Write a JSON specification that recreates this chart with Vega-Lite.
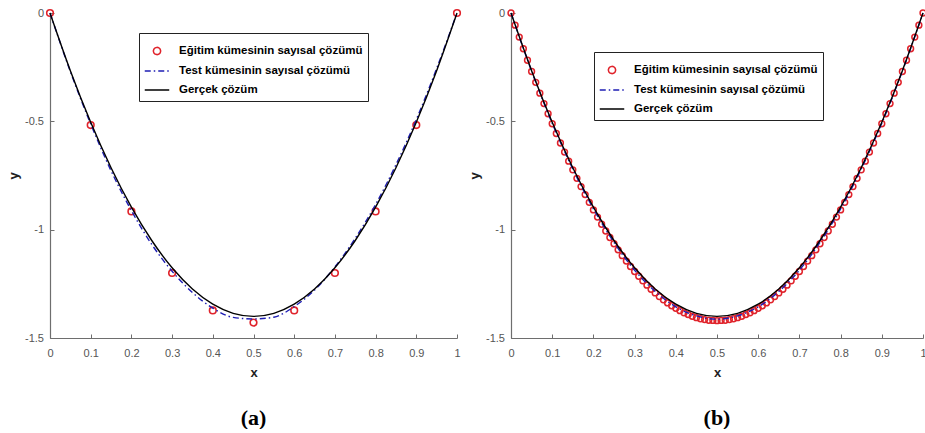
{
  "$schema": "https://vega.github.io/schema/vega-lite/v6.json",
  "padding": {"left": 7, "top": 6, "right": 0, "bottom": 0},
  "background": "white",
  "spacing": 4,
  "config": {
    "view": {"stroke": null},
    "axis": {
      "grid": false,
      "domainColor": "#6e6e6e",
      "domainWidth": 1.2,
      "tickColor": "#6e6e6e",
      "tickWidth": 1,
      "tickSize": -4,
      "labelColor": "#555555",
      "labelFont": "Liberation Sans",
      "labelFontSize": 11,
      "labelFlush": false,
      "labelOverlap": false,
      "titleFont": "Liberation Sans",
      "titleFontSize": 13,
      "titleFontWeight": "bold",
      "titleColor": "#222222"
    },
    "axisX": {"labelPadding": 13, "titlePadding": 8},
    "axisY": {"labelPadding": 10.5, "titlePadding": 4},
    "legend": {
      "orient": "none", "title": null,
      "padding": 5, "strokeColor": "#222222", "fillColor": "#ffffff",
      "symbolSize": 600, "symbolStrokeWidth": 1.5, "symbolFillColor": "transparent",
      "labelFont": "Liberation Sans", "labelFontWeight": "bold", "labelFontSize": 11.5, "labelColor": "#000000",
      "labelOffset": 9, "rowPadding": -2, "labelLimit": 400
    },
    "title": {"font": "Liberation Serif", "fontSize": 22, "fontWeight": "bold", "color": "#000000", "orient": "bottom", "anchor": "middle", "offset": 29}
  },
  "resolve": {"scale": {"color": "independent"}, "legend": {"color": "independent"}},
  "datasets": {
    "a_train": [
      {"x": 0, "y": 0}, {"x": 0.1, "y": -0.517}, {"x": 0.2, "y": -0.916}, {"x": 0.3, "y": -1.2}, {"x": 0.4, "y": -1.373}, {"x": 0.5, "y": -1.429},
      {"x": 0.6, "y": -1.373}, {"x": 0.7, "y": -1.2}, {"x": 0.8, "y": -0.916}, {"x": 0.9, "y": -0.517}, {"x": 1, "y": 0}
    ],
    "a_test": [
      {"x": 0, "y": 0}, {"x": 0.05, "y": -0.27}, {"x": 0.1, "y": -0.512}, {"x": 0.15, "y": -0.728}, {"x": 0.2, "y": -0.912}, {"x": 0.25, "y": -1.068},
      {"x": 0.3, "y": -1.192}, {"x": 0.35, "y": -1.29}, {"x": 0.4, "y": -1.362}, {"x": 0.45, "y": -1.405}, {"x": 0.5, "y": -1.412},
      {"x": 0.55, "y": -1.404}, {"x": 0.6, "y": -1.355}, {"x": 0.65, "y": -1.279}, {"x": 0.7, "y": -1.172}, {"x": 0.75, "y": -1.04},
      {"x": 0.8, "y": -0.884}, {"x": 0.85, "y": -0.7}, {"x": 0.9, "y": -0.492}, {"x": 0.95, "y": -0.256}, {"x": 1, "y": 0}
    ],
    "exact": [
      {"x": 0, "y": 0}, {"x": 0.05, "y": -0.266}, {"x": 0.1, "y": -0.504}, {"x": 0.15, "y": -0.714}, {"x": 0.2, "y": -0.896}, {"x": 0.25, "y": -1.05},
      {"x": 0.3, "y": -1.176}, {"x": 0.35, "y": -1.274}, {"x": 0.4, "y": -1.344}, {"x": 0.45, "y": -1.386}, {"x": 0.5, "y": -1.4},
      {"x": 0.55, "y": -1.386}, {"x": 0.6, "y": -1.344}, {"x": 0.65, "y": -1.274}, {"x": 0.7, "y": -1.176}, {"x": 0.75, "y": -1.05},
      {"x": 0.8, "y": -0.896}, {"x": 0.85, "y": -0.714}, {"x": 0.9, "y": -0.504}, {"x": 0.95, "y": -0.266}, {"x": 1, "y": 0}
    ],
    "b_test": [
      {"x": 0, "y": 0}, {"x": 0.05, "y": -0.268}, {"x": 0.1, "y": -0.509}, {"x": 0.15, "y": -0.72}, {"x": 0.2, "y": -0.904}, {"x": 0.25, "y": -1.059},
      {"x": 0.3, "y": -1.187}, {"x": 0.35, "y": -1.285}, {"x": 0.4, "y": -1.356}, {"x": 0.45, "y": -1.398}, {"x": 0.5, "y": -1.413},
      {"x": 0.55, "y": -1.398}, {"x": 0.6, "y": -1.356}, {"x": 0.65, "y": -1.285}, {"x": 0.7, "y": -1.187}, {"x": 0.75, "y": -1.059},
      {"x": 0.8, "y": -0.904}, {"x": 0.85, "y": -0.72}, {"x": 0.9, "y": -0.509}, {"x": 0.95, "y": -0.268}, {"x": 1, "y": 0}
    ],
    "b_train": [
      {"x": 0, "y": 0}, {"x": 0.01, "y": -0.056}, {"x": 0.02, "y": -0.111}, {"x": 0.03, "y": -0.165}, {"x": 0.04, "y": -0.218},
      {"x": 0.05, "y": -0.27}, {"x": 0.06, "y": -0.32}, {"x": 0.07, "y": -0.37}, {"x": 0.08, "y": -0.418}, {"x": 0.09, "y": -0.465},
      {"x": 0.1, "y": -0.511}, {"x": 0.11, "y": -0.556}, {"x": 0.12, "y": -0.6}, {"x": 0.13, "y": -0.642}, {"x": 0.14, "y": -0.684},
      {"x": 0.15, "y": -0.724}, {"x": 0.16, "y": -0.763}, {"x": 0.17, "y": -0.801}, {"x": 0.18, "y": -0.838}, {"x": 0.19, "y": -0.874},
      {"x": 0.2, "y": -0.909}, {"x": 0.21, "y": -0.942}, {"x": 0.22, "y": -0.975}, {"x": 0.23, "y": -1.006}, {"x": 0.24, "y": -1.036},
      {"x": 0.25, "y": -1.065}, {"x": 0.26, "y": -1.093}, {"x": 0.27, "y": -1.12}, {"x": 0.28, "y": -1.145}, {"x": 0.29, "y": -1.17},
      {"x": 0.3, "y": -1.193}, {"x": 0.31, "y": -1.215}, {"x": 0.32, "y": -1.236}, {"x": 0.33, "y": -1.256}, {"x": 0.34, "y": -1.275},
      {"x": 0.35, "y": -1.292}, {"x": 0.36, "y": -1.309}, {"x": 0.37, "y": -1.324}, {"x": 0.38, "y": -1.338}, {"x": 0.39, "y": -1.351},
      {"x": 0.4, "y": -1.363}, {"x": 0.41, "y": -1.374}, {"x": 0.42, "y": -1.384}, {"x": 0.43, "y": -1.392}, {"x": 0.44, "y": -1.4},
      {"x": 0.45, "y": -1.406}, {"x": 0.46, "y": -1.411}, {"x": 0.47, "y": -1.415}, {"x": 0.48, "y": -1.418}, {"x": 0.49, "y": -1.419},
      {"x": 0.5, "y": -1.42}, {"x": 0.51, "y": -1.419}, {"x": 0.52, "y": -1.418}, {"x": 0.53, "y": -1.415}, {"x": 0.54, "y": -1.411},
      {"x": 0.55, "y": -1.406}, {"x": 0.56, "y": -1.4}, {"x": 0.57, "y": -1.392}, {"x": 0.58, "y": -1.384}, {"x": 0.59, "y": -1.374},
      {"x": 0.6, "y": -1.363}, {"x": 0.61, "y": -1.351}, {"x": 0.62, "y": -1.338}, {"x": 0.63, "y": -1.324}, {"x": 0.64, "y": -1.309},
      {"x": 0.65, "y": -1.292}, {"x": 0.66, "y": -1.275}, {"x": 0.67, "y": -1.256}, {"x": 0.68, "y": -1.236}, {"x": 0.69, "y": -1.215},
      {"x": 0.7, "y": -1.193}, {"x": 0.71, "y": -1.17}, {"x": 0.72, "y": -1.145}, {"x": 0.73, "y": -1.12}, {"x": 0.74, "y": -1.093},
      {"x": 0.75, "y": -1.065}, {"x": 0.76, "y": -1.036}, {"x": 0.77, "y": -1.006}, {"x": 0.78, "y": -0.975}, {"x": 0.79, "y": -0.942},
      {"x": 0.8, "y": -0.909}, {"x": 0.81, "y": -0.874}, {"x": 0.82, "y": -0.838}, {"x": 0.83, "y": -0.801}, {"x": 0.84, "y": -0.763},
      {"x": 0.85, "y": -0.724}, {"x": 0.86, "y": -0.684}, {"x": 0.87, "y": -0.642}, {"x": 0.88, "y": -0.6}, {"x": 0.89, "y": -0.556},
      {"x": 0.9, "y": -0.511}, {"x": 0.91, "y": -0.465}, {"x": 0.92, "y": -0.418}, {"x": 0.93, "y": -0.37}, {"x": 0.94, "y": -0.32},
      {"x": 0.95, "y": -0.27}, {"x": 0.96, "y": -0.218}, {"x": 0.97, "y": -0.165}, {"x": 0.98, "y": -0.111}, {"x": 0.99, "y": -0.056},
      {"x": 1, "y": 0}
    ]
  },
  "hconcat": [
    {
      "width": 407,
      "height": 325,
      "title": {"text": "(a)"},
      "layer": [
        {
          "data": {"name": "a_train"},
          "mark": {"type": "point", "filled": false, "shape": "circle", "size": 44, "strokeWidth": 1.6, "opacity": 1},
          "encoding": {
            "x": {"field": "x", "type": "quantitative", "scale": {"domain": [0, 1], "nice": false},
                  "axis": {"values": [0, 0.1, 0.2, 0.3, 0.4, 0.5, 0.6, 0.7, 0.8, 0.9, 1], "labelExpr": "'' + datum.value", "title": "x"}},
            "y": {"field": "y", "type": "quantitative", "scale": {"domain": [-1.5, 0], "nice": false},
                  "axis": {"values": [-1.5, -1, -0.5, 0], "labelExpr": "'' + datum.value", "title": "y"}},
            "color": {
              "datum": "Eğitim kümesinin sayısal çözümü", "type": "nominal",
              "scale": {"domain": ["Eğitim kümesinin sayısal çözümü", "Test kümesinin sayısal çözümü", "Gerçek çözüm"], "range": ["#e0232b", "#1e1eb4", "#000000"]},
              "legend": {"legendX": 89, "legendY": 20, "strokeColor": "#222222", "fillColor": "#ffffff", "rowPadding": -2,
                "symbolType": {"expr": "datum.value === 'Eğitim kümesinin sayısal çözümü' ? 'M0.3,0L0.26,0.15L0.15,0.26L0,0.3L-0.15,0.26L-0.26,0.15L-0.3,0L-0.26,-0.15L-0.15,-0.26L0,-0.3L0.15,-0.26L0.26,-0.15Z' : 'stroke'"},
                "symbolDash": {"expr": "datum.value === 'Test kümesinin sayısal çözümü' ? [6,3,1.5,3] : [1,0]"}}
            }
          }
        },
        {
          "data": {"name": "a_test"},
          "mark": {"type": "line", "strokeWidth": 1.4, "strokeDash": [6, 3, 1.5, 3], "interpolate": "monotone"},
          "encoding": {
            "x": {"field": "x", "type": "quantitative"},
            "y": {"field": "y", "type": "quantitative"},
            "color": {"datum": "Test kümesinin sayısal çözümü", "type": "nominal",
              "legend": {"legendX": 89, "legendY": 20, "strokeColor": "#222222", "fillColor": "#ffffff", "rowPadding": -2,
                "symbolType": {"expr": "datum.value === 'Eğitim kümesinin sayısal çözümü' ? 'M0.3,0L0.26,0.15L0.15,0.26L0,0.3L-0.15,0.26L-0.26,0.15L-0.3,0L-0.26,-0.15L-0.15,-0.26L0,-0.3L0.15,-0.26L0.26,-0.15Z' : 'stroke'"},
                "symbolDash": {"expr": "datum.value === 'Test kümesinin sayısal çözümü' ? [6,3,1.5,3] : [1,0]"}}}
          }
        },
        {
          "data": {"name": "exact"},
          "mark": {"type": "line", "strokeWidth": 1.4, "interpolate": "monotone"},
          "encoding": {
            "x": {"field": "x", "type": "quantitative"},
            "y": {"field": "y", "type": "quantitative"},
            "color": {"datum": "Gerçek çözüm", "type": "nominal",
              "legend": {"legendX": 89, "legendY": 20, "strokeColor": "#222222", "fillColor": "#ffffff", "rowPadding": -2,
                "symbolType": {"expr": "datum.value === 'Eğitim kümesinin sayısal çözümü' ? 'M0.3,0L0.26,0.15L0.15,0.26L0,0.3L-0.15,0.26L-0.26,0.15L-0.3,0L-0.26,-0.15L-0.15,-0.26L0,-0.3L0.15,-0.26L0.26,-0.15Z' : 'stroke'"},
                "symbolDash": {"expr": "datum.value === 'Test kümesinin sayısal çözümü' ? [6,3,1.5,3] : [1,0]"}}}
          }
        }
      ]
    },
    {
      "width": 412,
      "height": 325,
      "title": {"text": "(b)"},
      "layer": [
        {
          "data": {"name": "b_train"},
          "mark": {"type": "point", "filled": false, "shape": "circle", "size": 34, "strokeWidth": 1.5, "opacity": 1},
          "encoding": {
            "x": {"field": "x", "type": "quantitative", "scale": {"domain": [0, 1], "nice": false},
                  "axis": {"values": [0, 0.1, 0.2, 0.3, 0.4, 0.5, 0.6, 0.7, 0.8, 0.9, 1], "labelExpr": "'' + datum.value", "title": "x"}},
            "y": {"field": "y", "type": "quantitative", "scale": {"domain": [-1.5, 0], "nice": false},
                  "axis": {"values": [-1.5, -1, -0.5, 0], "labelExpr": "'' + datum.value", "title": "y"}},
            "color": {
              "datum": "Eğitim kümesinin sayısal çözümü", "type": "nominal",
              "scale": {"domain": ["Eğitim kümesinin sayısal çözümü", "Test kümesinin sayısal çözümü", "Gerçek çözüm"], "range": ["#e0232b", "#1e1eb4", "#000000"]},
              "legend": {"legendX": 83, "legendY": 39, "strokeColor": "#222222", "fillColor": "#ffffff", "rowPadding": -2,
                "symbolType": {"expr": "datum.value === 'Eğitim kümesinin sayısal çözümü' ? 'M0.3,0L0.26,0.15L0.15,0.26L0,0.3L-0.15,0.26L-0.26,0.15L-0.3,0L-0.26,-0.15L-0.15,-0.26L0,-0.3L0.15,-0.26L0.26,-0.15Z' : 'stroke'"},
                "symbolDash": {"expr": "datum.value === 'Test kümesinin sayısal çözümü' ? [6,3,1.5,3] : [1,0]"}}
            }
          }
        },
        {
          "data": {"name": "b_test"},
          "mark": {"type": "line", "strokeWidth": 1.4, "strokeDash": [6, 3, 1.5, 3], "interpolate": "monotone"},
          "encoding": {
            "x": {"field": "x", "type": "quantitative"},
            "y": {"field": "y", "type": "quantitative"},
            "color": {"datum": "Test kümesinin sayısal çözümü", "type": "nominal",
              "legend": {"legendX": 83, "legendY": 39, "strokeColor": "#222222", "fillColor": "#ffffff", "rowPadding": -2,
                "symbolType": {"expr": "datum.value === 'Eğitim kümesinin sayısal çözümü' ? 'M0.3,0L0.26,0.15L0.15,0.26L0,0.3L-0.15,0.26L-0.26,0.15L-0.3,0L-0.26,-0.15L-0.15,-0.26L0,-0.3L0.15,-0.26L0.26,-0.15Z' : 'stroke'"},
                "symbolDash": {"expr": "datum.value === 'Test kümesinin sayısal çözümü' ? [6,3,1.5,3] : [1,0]"}}}
          }
        },
        {
          "data": {"name": "exact"},
          "mark": {"type": "line", "strokeWidth": 1.4, "interpolate": "monotone"},
          "encoding": {
            "x": {"field": "x", "type": "quantitative"},
            "y": {"field": "y", "type": "quantitative"},
            "color": {"datum": "Gerçek çözüm", "type": "nominal",
              "legend": {"legendX": 83, "legendY": 39, "strokeColor": "#222222", "fillColor": "#ffffff", "rowPadding": -2,
                "symbolType": {"expr": "datum.value === 'Eğitim kümesinin sayısal çözümü' ? 'M0.3,0L0.26,0.15L0.15,0.26L0,0.3L-0.15,0.26L-0.26,0.15L-0.3,0L-0.26,-0.15L-0.15,-0.26L0,-0.3L0.15,-0.26L0.26,-0.15Z' : 'stroke'"},
                "symbolDash": {"expr": "datum.value === 'Test kümesinin sayısal çözümü' ? [6,3,1.5,3] : [1,0]"}}}
          }
        }
      ]
    }
  ]
}
